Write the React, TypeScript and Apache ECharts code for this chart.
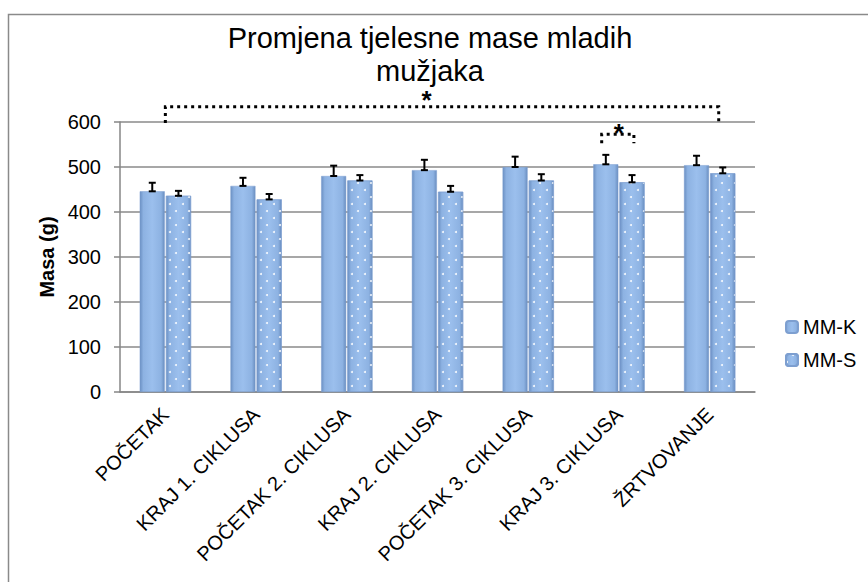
import React, { useEffect, useRef } from "react";
import * as echarts from "echarts";

const categories = [
  "POČETAK",
  "KRAJ 1. CIKLUSA",
  "POČETAK 2. CIKLUSA",
  "KRAJ 2. CIKLUSA",
  "POČETAK 3. CIKLUSA",
  "KRAJ 3. CIKLUSA",
  "ŽRTVOVANJE",
];
const seriesNames = ["MM-K", "MM-S"];
const mmK = [446, 458, 480, 493, 500, 506, 504];
const mmS = [436, 428, 470, 445, 470, 466, 486];
const errK = [19, 18, 23, 23, 23, 21, 21];
const errS = [11, 12, 12, 13, 14, 16, 13];
const yTicks = [0, 100, 200, 300, 400, 500, 600];

// significance brackets: [startCategory, startOffset(band), endCategory, endOffset(band), topValue, endValue, starCategory, starOffset, starValue]
const brackets = [
  [0, 0.0, 6, 0.1, 634, 598, 3, -0.12, 677],
  [5, -0.19, 5, 0.165, 573, 553, 5, 0.0, 605],
];

const FONT = "'Liberation Sans', Arial, sans-serif";
const BAR_W = 25;
const GAP = 1.2;

const barFill = {
  type: "linear",
  x: 0,
  y: 0,
  x2: 1,
  y2: 0,
  colorStops: [
    { offset: 0, color: "#6b90c3" },
    { offset: 0.14, color: "#8db2e2" },
    { offset: 0.5, color: "#9bbfed" },
    { offset: 0.86, color: "#8db2e2" },
    { offset: 1, color: "#6a8ec0" },
  ],
};

export default function App() {
  const ref = useRef<HTMLDivElement>(null);
  useEffect(() => {
    if (!ref.current) return;
    const chart = echarts.init(ref.current, undefined, { renderer: "svg" });

    const errRender = (offsetSign: number) => (params: any, api: any) => {
      const cat = api.value(0);
      const v = api.value(1);
      const e = api.value(2);
      const p0 = api.coord([cat, v]);
      const p1 = api.coord([cat, v + e]);
      const x = p0[0] + offsetSign * (BAR_W / 2 + GAP / 2);
      const cap = 3.5;
      const st = { stroke: "#000", lineWidth: 2 };
      return {
        type: "group",
        children: [
          { type: "line", shape: { x1: x, y1: p0[1], x2: x, y2: p1[1] }, style: st },
          { type: "line", shape: { x1: x - cap, y1: p1[1], x2: x + cap, y2: p1[1] }, style: st },
          { type: "line", shape: { x1: x - cap, y1: p0[1], x2: x + cap, y2: p0[1] }, style: st },
        ],
      };
    };

    const bracketRender = (params: any, api: any) => {
      const band = api.size([1, 0])[0];
      const c1 = api.value(0), o1 = api.value(1), c2 = api.value(2), o2 = api.value(3);
      const top = api.value(4), end = api.value(5);
      const sc = api.value(6), so = api.value(7), sv = api.value(8);
      const a = api.coord([c1, top]);
      const b = api.coord([c2, top]);
      const ea = api.coord([c1, end]);
      const x1 = a[0] + o1 * band;
      const x2 = b[0] + o2 * band;
      const sp = api.coord([sc, sv]);
      return {
        type: "group",
        children: [
          {
            type: "polyline",
            shape: { points: [[x1, ea[1]], [x1, a[1]], [x2, a[1]], [x2, ea[1]]] },
            style: { stroke: "#000", lineWidth: 3, lineDash: [3, 4], fill: "none" },
          },
          {
            type: "text",
            style: {
              text: "*",
              x: sp[0] + so * band,
              y: sp[1],
              align: "center",
              verticalAlign: "top",
              font: `bold 26px ${FONT}`,
              fill: "#000",
            },
          },
        ],
      };
    };

    chart.setOption({
      animation: false,
      textStyle: { fontFamily: FONT },
      title: {
        text: "Promjena tjelesne mase mladih\nmužjaka",
        left: 430,
        textAlign: "center",
        top: 21,
        padding: 0,
        textStyle: { fontSize: 29, fontWeight: "normal", color: "#000", lineHeight: 33, fontFamily: FONT },
      },
      legend: {
        orient: "vertical",
        left: 780,
        top: 312,
        itemWidth: 12,
        itemHeight: 12,
        itemGap: 13,
        data: seriesNames,
        textStyle: { fontSize: 20, color: "#000", fontFamily: FONT },
      },
      graphic: [
        {
          type: "rect",
          left: 6,
          top: 12,
          shape: { width: 900, height: 620 },
          style: { stroke: "#8a8a8a", lineWidth: 1.5, fill: "none" },
          silent: true,
        },
      ],
      grid: { left: 120, right: 113, top: 122, bottom: 190 },
      xAxis: {
        type: "category",
        data: categories,
        axisLine: { lineStyle: { color: "#868686", width: 1.5 } },
        axisTick: { show: false },
        axisLabel: { rotate: 45, fontSize: 20, color: "#000", margin: 19, fontFamily: FONT, interval: 0 },
      },
      yAxis: {
        type: "value",
        min: yTicks[0],
        max: yTicks[yTicks.length - 1],
        interval: 100,
        name: "Masa (g)",
        nameLocation: "middle",
        nameRotate: 90,
        nameGap: 55,
        nameTextStyle: { fontSize: 20, fontWeight: "bold", color: "#000", fontFamily: FONT },
        axisLine: { show: true, lineStyle: { color: "#868686", width: 1.5 } },
        axisTick: { show: true, length: 6, lineStyle: { color: "#868686", width: 1.5 } },
        axisLabel: { fontSize: 20, color: "#000", margin: 19, fontFamily: FONT },
        splitLine: { lineStyle: { color: "#8a8a8a", width: 1.5 } },
      },
      series: [
        {
          name: seriesNames[0],
          type: "bar",
          data: mmK,
          barWidth: BAR_W,
          barGap: "5%",
          itemStyle: { color: barFill, borderColor: "#7d9fd0", borderWidth: 0.5 },
        },
        {
          name: seriesNames[1],
          type: "bar",
          data: mmS,
          barWidth: BAR_W,
          itemStyle: {
            color: barFill,
            borderColor: "#7d9fd0",
            borderWidth: 0.5,
            decal: {
              symbol: "circle",
              symbolSize: 1,
              color: "rgba(255,255,255,0.9)",
              dashArrayX: [[1.6, 10.4], [0, 6, 1.6, 4.4]],
              dashArrayY: [1.6, 5],
            },
          },
        },
        {
          type: "custom",
          name: "errK",
          renderItem: errRender(-1),
          data: mmK.map((v, i) => [i, v, errK[i]]),
          encode: { x: 0, y: 1 },
          z: 5,
          silent: true,
        },
        {
          type: "custom",
          name: "errS",
          renderItem: errRender(1),
          data: mmS.map((v, i) => [i, v, errS[i]]),
          encode: { x: 0, y: 1 },
          z: 5,
          silent: true,
        },
        {
          type: "custom",
          name: "sig",
          renderItem: bracketRender,
          data: brackets,
          encode: { x: 0, y: 4 },
          clip: false,
          z: 6,
          silent: true,
        },
      ],
    });
    return () => chart.dispose();
  }, []);
  return (
    <div
      ref={ref}
      style={{ position: "fixed", left: 0, top: 0, width: 868, height: 582, background: "#fff" }}
    />
  );
}
